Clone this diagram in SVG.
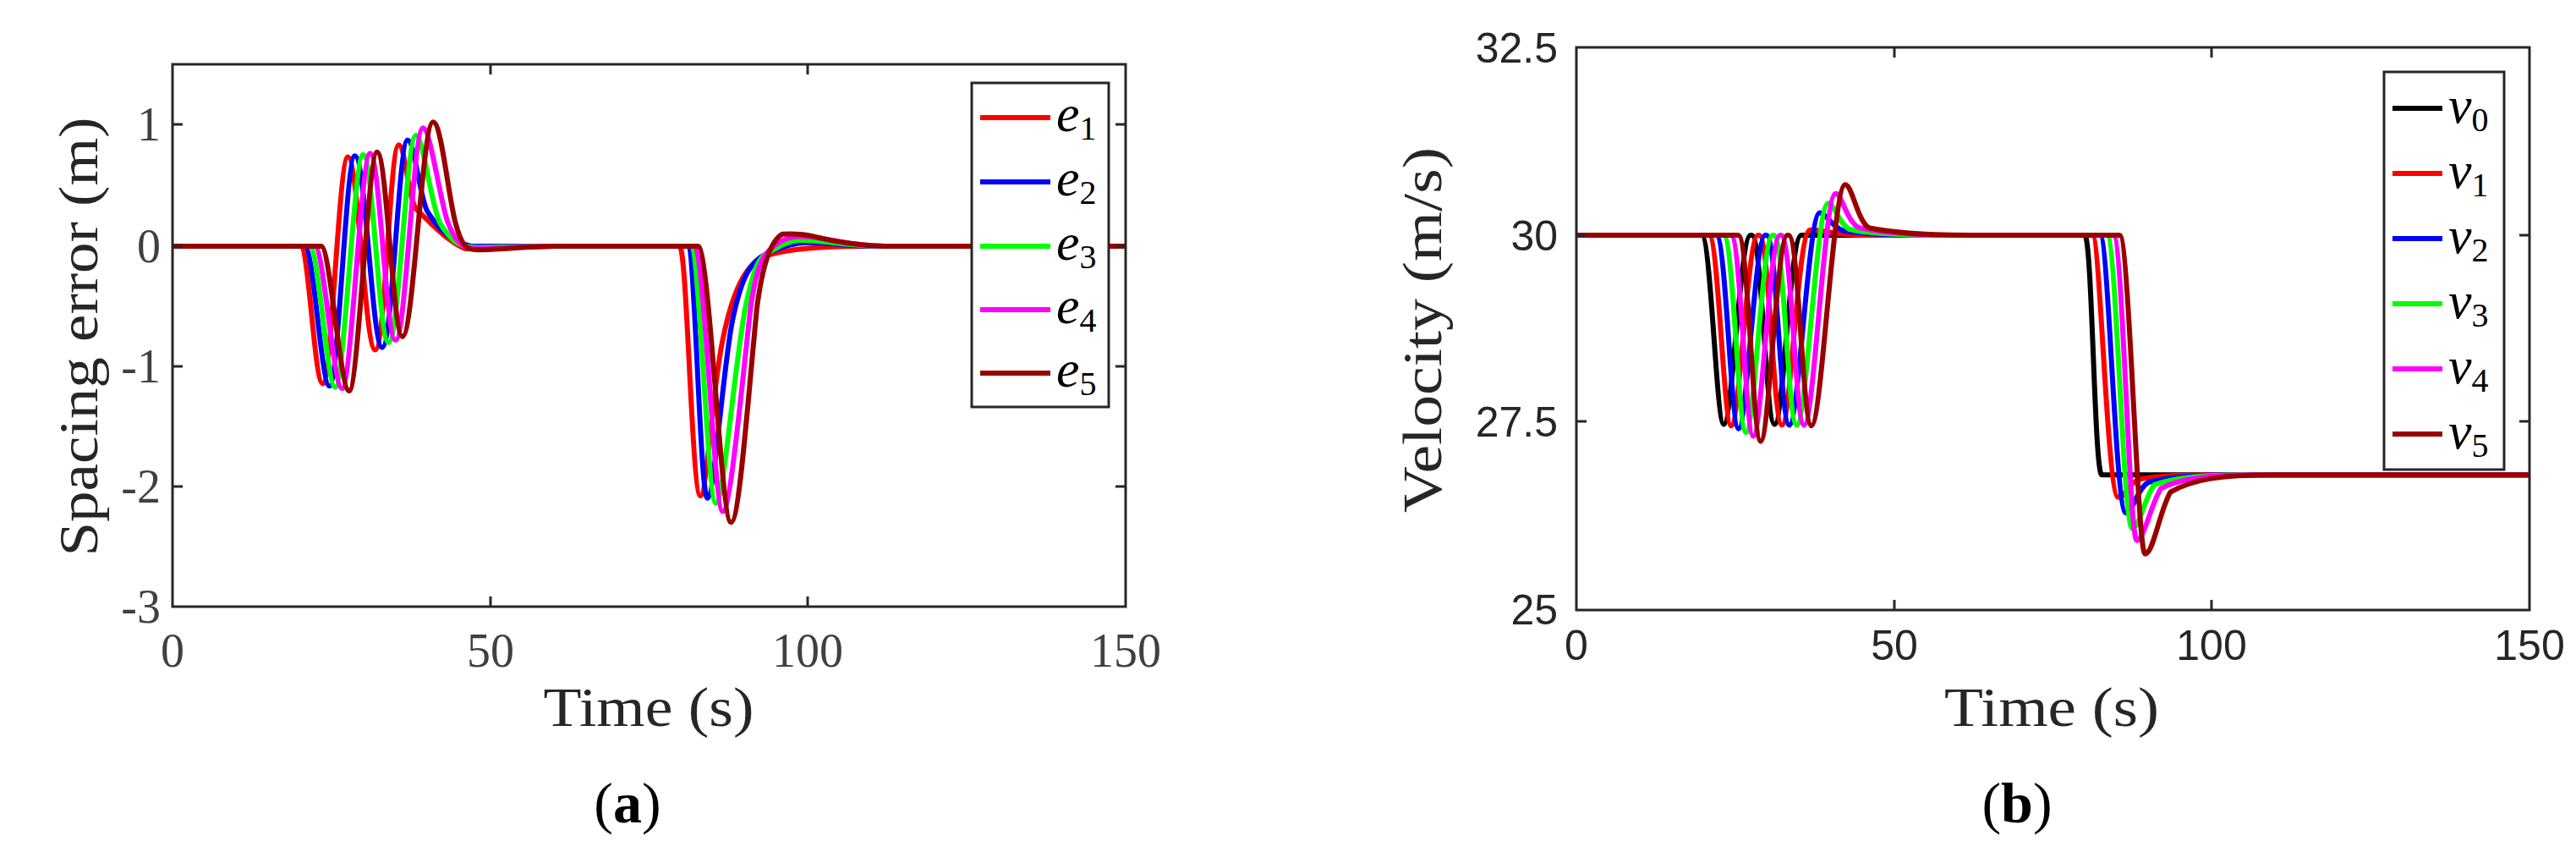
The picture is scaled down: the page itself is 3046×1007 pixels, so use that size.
<svg xmlns="http://www.w3.org/2000/svg" width="3046" height="1007" viewBox="0 0 3046 1007">
<style>
.ax{fill:none;stroke:#262626;stroke-width:3}
.tk{stroke:#262626;stroke-width:3}
.d{fill:none;stroke-width:6;stroke-linejoin:round;vector-effect:non-scaling-stroke}
.tl{font-family:"Liberation Serif",serif;font-size:56px;fill:#404040}
.tr{font-family:"Liberation Sans",sans-serif;font-size:50px;fill:#262626}
.lab{font-family:"Liberation Serif",serif;font-size:66px;fill:#262626}
.cap{font-family:"Liberation Serif",serif;font-size:68px;fill:#000}
.lg{font-family:"Liberation Serif",serif;font-style:italic;font-size:62px;fill:#000}
.sub{font-size:40px;font-style:normal}
.c0{stroke:#000}.c1{stroke:#ff0000}.c2{stroke:#0000ff}.c3{stroke:#00ff00}.c4{stroke:#ff00ff}.c5{stroke:#990000}
</style>
<defs>
<clipPath id="ca"><rect x="204" y="76" width="1127" height="641"/></clipPath>
<clipPath id="cb"><rect x="1864" y="56" width="1127" height="665"/></clipPath>
</defs>
<rect width="3046" height="1007" fill="#fff"/>

<g id="plot-a">
<g id="curves-a" clip-path="url(#ca)">
<g transform="matrix(7.513 0 0 -142.5 204 291)">
<path class="d c1" d="M0,0 H20.1 C21.5,0 22.3,-1.14 23.65,-1.14 C25,-1.14 26.2,0.74 27.6,0.74 C29.2,0.74 30.3,-0.86 31.9,-0.86 C33.5,-0.86 34.2,0.84 35.6,0.84 C36.6,0.84 37.2,0.35 38.5,0.3 C40.5,0.2 43,0.05 46,-0.02 C48,-0.03 52,0 60,0 H79.8 C81,0 81.7,-2.07 83.1,-2.07 C84,-2.07 85,-1.2 86.5,-0.8 C88,-0.4 90,-0.15 93.3,-0.08 C97,-0.02 102,0 110,0 H150"/>
<path class="d c2" d="M0,0 H20.8 C22.2,0 23.4,-1.16 24.7,-1.16 C26.1,-1.16 27.3,0.75 28.7,0.75 C30.4,0.75 31.4,-0.84 33,-0.84 C34.6,-0.84 35.6,0.88 37,0.88 C38,0.88 38.8,0.45 40,0.3 C42,0.12 44,0.04 47,0 H81 C82.3,0 83,-2.09 84.2,-2.09 C85.2,-2.09 86.5,-1.1 88,-0.65 C89.5,-0.25 91,-0.12 93.6,-0.06 C96,0 98,0.03 100,0.03 C104,0.03 106,0 110,0 H150"/>
<path class="d c3" d="M0,0 H21.6 C23,0 24.3,-1.17 25.6,-1.17 C27,-1.17 28.6,0.76 30,0.76 C31.5,0.76 32.5,-0.8 34,-0.8 C35.6,-0.8 36.8,0.92 38.3,0.92 C39.4,0.92 40.5,0.4 42,0.2 C44,0.02 45.5,-0.01 48,-0.01 C52,-0.01 55,0 60,0 H81.5 C83,0 84.2,-2.13 85.5,-2.13 C86.7,-2.13 88,-1.2 90,-0.55 C91.5,-0.15 92.5,-0.08 93.6,-0.06 C95.5,0 97,0.05 99,0.05 C103,0.05 106,0 112,0 H150"/>
<path class="d c4" d="M0,0 H22.4 C23.8,0 25.3,-1.18 26.7,-1.18 C28.1,-1.18 29.7,0.77 31.1,0.77 C32.6,0.77 33.6,-0.78 35.1,-0.78 C36.7,-0.78 37.9,0.98 39.4,0.98 C40.6,0.98 41.8,0.45 43.3,0.2 C44.8,0 46,-0.02 48,-0.02 C52,-0.02 55,0 60,0 H82 C83.8,0 85.2,-2.2 86.6,-2.2 C87.8,-2.2 89.5,-1.2 91,-0.5 C92,-0.15 93,-0.08 94,-0.03 C95.5,0.05 97,0.08 99,0.08 C103,0.08 106,0 112,0 H150"/>
<path class="d c5" d="M0,0 H23.4 C24.8,0 26.4,-1.2 27.8,-1.2 C29.2,-1.2 30.8,0.78 32.2,0.78 C33.7,0.78 34.7,-0.75 36.2,-0.75 C37.9,-0.75 39.3,1.03 41,1.03 C42.3,1.03 43.3,0.45 44.5,0.2 C45.5,0 46.2,-0.03 48,-0.03 C51,-0.03 53,-0.01 60,0 H82.7 C84.5,0 86.3,-2.29 87.9,-2.29 C89.2,-2.29 90.5,-1.3 92,-0.5 C93,-0.1 94.5,0.06 96,0.1 C97.5,0.105 99,0.105 101,0.08 C104,0.04 107,0.01 112,0 H150"/>
</g>
</g>
<rect class="ax" x="204" y="76" width="1127" height="641"/>
<path class="tk" d="M580,717v-12M955,717v-12M580,76v12M955,76v12M204,147h12M204,291h12M204,433h12M204,575h12M1331,147h-12M1331,291h-12M1331,433h-12M1331,575h-12"/>
<g class="tl" text-anchor="end">
<text x="190" y="166">1</text><text x="190" y="310">0</text><text x="190" y="452">-1</text><text x="190" y="594">-2</text><text x="190" y="736">-3</text>
</g>
<g class="tl" text-anchor="middle">
<text x="204" y="788">0</text><text x="580" y="788">50</text><text x="955" y="788">100</text><text x="1331" y="788">150</text>
</g>
<text class="lab" x="767" y="858" text-anchor="middle" textLength="249" lengthAdjust="spacingAndGlyphs">Time (s)</text>
<text class="lab" transform="translate(115 398) rotate(-90)" text-anchor="middle" textLength="519" lengthAdjust="spacingAndGlyphs">Spacing error (m)</text>
<text class="cap" x="742" y="972" text-anchor="middle"><tspan>(</tspan><tspan font-weight="bold">a</tspan><tspan>)</tspan></text>
<g id="legend-a">
<rect x="1149" y="98" width="162" height="383" fill="#fff" stroke="#262626" stroke-width="3"/>
<path class="d c1" d="M1159,139H1242"/><path class="d c2" d="M1159,215H1242"/><path class="d c3" d="M1159,291H1242"/><path class="d c4" d="M1159,366H1242"/><path class="d c5" d="M1159,441H1242"/>
<text class="lg" x="1249" y="155">e<tspan class="sub" dy="10">1</tspan></text>
<text class="lg" x="1249" y="231">e<tspan class="sub" dy="10">2</tspan></text>
<text class="lg" x="1249" y="307">e<tspan class="sub" dy="10">3</tspan></text>
<text class="lg" x="1249" y="382">e<tspan class="sub" dy="10">4</tspan></text>
<text class="lg" x="1249" y="457">e<tspan class="sub" dy="10">5</tspan></text>
</g>
</g>

<g id="plot-b">
<g id="curves-b" clip-path="url(#cb)">
<g transform="matrix(7.513 0 0 -88 1864 278)">
<path class="d c0" d="M0,0 H19.7 C21.2,0 22,-2.54 23.2,-2.54 C24.5,-2.54 25.8,0 27.4,0 H27.6 C29.2,0 29.8,-2.54 31.2,-2.54 C32.6,-2.54 33.6,0 35.4,0 H80 C81.2,0 81.5,-3.22 82.7,-3.22 H150"/>
<path class="d c1" d="M0,0 H20.86 C22.36,0 23.16,-2.56 24.36,-2.56 C25.66,-2.56 26.96,0 28.56,0 H28.76 C30.36,0 30.96,-2.55 32.36,-2.55 C33.76,-2.55 34.8,0.07 36.8,0.07 C39,0.07 41,0 45,0 H81.2 C82.5,0 83.5,-3.52 85.3,-3.52 C86.5,-3.52 87,-3.3 89,-3.27 C92,-3.23 95,-3.22 100,-3.22 H150"/>
<path class="d c2" d="M0,0 H22.02 C23.52,0 24.32,-2.6 25.52,-2.6 C26.82,-2.6 28.12,0 29.72,0 H29.92 C31.52,0 32.12,-2.55 33.52,-2.55 C35,-2.55 36.5,0.3 38.3,0.3 C39.3,0.3 40,0.12 42,0.06 C45,0.02 50,0 55,0 H82.4 C83.8,0 84.8,-3.73 86.5,-3.73 C87.5,-3.73 88.3,-3.4 90,-3.32 C93,-3.25 97,-3.22 103,-3.22 H150"/>
<path class="d c3" d="M0,0 H23.18 C24.68,0 25.48,-2.65 26.68,-2.65 C27.98,-2.65 29.28,0 30.88,0 H31.08 C32.68,0 33.28,-2.55 34.68,-2.55 C36.2,-2.55 37.8,0.43 39.6,0.43 C40.6,0.43 41.3,0.15 43,0.08 C46,0.02 52,0 58,0 H83.5 C85,0 86,-3.94 87.5,-3.94 C88.6,-3.94 89.5,-3.5 91,-3.35 C94,-3.26 98,-3.22 105,-3.22 H150"/>
<path class="d c4" d="M0,0 H24.34 C25.84,0 26.64,-2.7 27.84,-2.7 C29.14,-2.7 30.44,0 32.04,0 H32.24 C33.84,0 34.44,-2.55 35.84,-2.55 C37.4,-2.55 39,0.56 40.8,0.56 C41.8,0.56 42.5,0.18 44.5,0.1 C48,0.03 53,0 60,0 H84.5 C86,0 87,-4.1 88.2,-4.1 C89.3,-4.1 90.5,-3.6 92,-3.4 C95,-3.27 99,-3.22 107,-3.22 H150"/>
<path class="d c5" d="M0,0 H25.5 C27,0 27.8,-2.77 29,-2.77 C30.3,-2.77 31.6,0 33.2,0 H33.4 C35,0 35.6,-2.56 37,-2.56 C38.6,-2.56 40.4,0.68 42.3,0.68 C43.4,0.68 44.2,0.2 46,0.1 C50,0.03 55,0 62,0 H85.5 C87,0 88.3,-4.28 89.5,-4.28 C90.8,-4.28 91.8,-3.7 93.5,-3.45 C97,-3.28 101,-3.22 110,-3.22 H150"/>
</g>
</g>
<rect class="ax" x="1864" y="56" width="1127" height="665"/>
<path class="tk" d="M2240,721v-12M2615,721v-12M2240,56v12M2615,56v12M1864,278h12M1864,498h12M2991,278h-12M2991,498h-12"/>
<g class="tr" text-anchor="end">
<text x="1842" y="74">32.5</text><text x="1842" y="296">30</text><text x="1842" y="516">27.5</text><text x="1842" y="738">25</text>
</g>
<g class="tr" text-anchor="middle">
<text x="1864" y="780">0</text><text x="2240" y="780">50</text><text x="2615" y="780">100</text><text x="2991" y="780">150</text>
</g>
<text class="lab" x="2426" y="858" text-anchor="middle" textLength="254" lengthAdjust="spacingAndGlyphs">Time (s)</text>
<text class="lab" transform="translate(1704 390) rotate(-90)" text-anchor="middle" textLength="432" lengthAdjust="spacingAndGlyphs">Velocity (m/s)</text>
<text class="cap" x="2385" y="972" text-anchor="middle"><tspan>(</tspan><tspan font-weight="bold">b</tspan><tspan>)</tspan></text>
<g id="legend-b">
<rect x="2819" y="85" width="142" height="470" fill="#fff" stroke="#262626" stroke-width="3"/>
<path class="d c0" d="M2829,128H2888"/><path class="d c1" d="M2829,205H2888"/><path class="d c2" d="M2829,282H2888"/><path class="d c3" d="M2829,359H2888"/><path class="d c4" d="M2829,436H2888"/><path class="d c5" d="M2829,513H2888"/>
<text class="lg" x="2895" y="145">v<tspan class="sub" dy="10">0</tspan></text>
<text class="lg" x="2895" y="222">v<tspan class="sub" dy="10">1</tspan></text>
<text class="lg" x="2895" y="299">v<tspan class="sub" dy="10">2</tspan></text>
<text class="lg" x="2895" y="376">v<tspan class="sub" dy="10">3</tspan></text>
<text class="lg" x="2895" y="453">v<tspan class="sub" dy="10">4</tspan></text>
<text class="lg" x="2895" y="530">v<tspan class="sub" dy="10">5</tspan></text>
</g>
</g>
</svg>
